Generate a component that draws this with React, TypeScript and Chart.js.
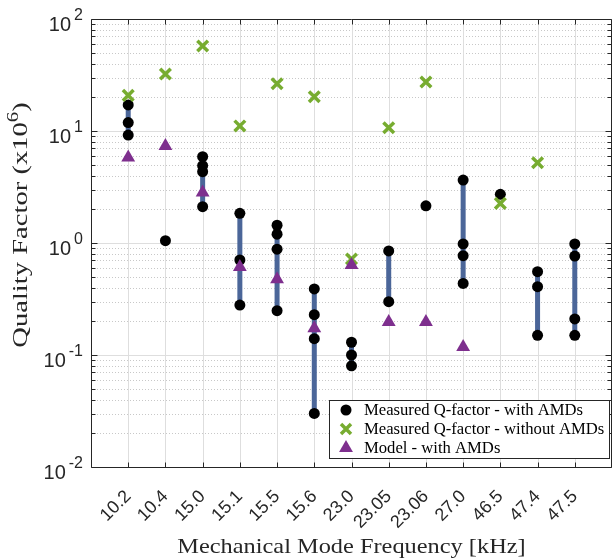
import React, { useEffect, useRef } from 'react';
import { Chart, registerables } from 'chart.js';

Chart.register(...registerables);

// ---------- data ----------
const categories = ['10.2', '10.4', '15.0', '15.1', '15.5', '15.6', '23.0', '23.05', '23.06', '27.0', '46.5', '47.4', '47.5'];

const measuredWithAMDs: number[][] = [
  [17.1, 11.9, 9.2],
  [1.05],
  [5.9, 4.9, 4.33, 2.11],
  [1.84, 0.705, 0.279],
  [1.44, 1.2, 0.88, 0.249],
  [0.389, 0.229, 0.14, 0.0301],
  [0.13, 0.1, 0.08],
  [0.85, 0.299],
  [2.15],
  [3.65, 0.98, 0.77, 0.436],
  [2.72],
  [0.555, 0.407, 0.15],
  [0.98, 0.765, 0.21, 0.15],
];

const measuredWithoutAMDs: (number | null)[] = [20.8, 32.3, 57.4, 11.1, 26.4, 20.2, 0.72, 10.7, 27.4, null, 2.26, 5.2, null];

const modelWithAMDs: (number | null)[] = [5.8, 7.35, 2.82, 0.61, 0.475, 0.173, 0.635, 0.197, 0.197, 0.118, null, null, null];

const yTickExponents = [-2, -1, 0, 1, 2];
const legendLabels = ['Measured Q-factor - with AMDs', 'Measured Q-factor - without AMDs', 'Model - with AMDs'];
const xTitle = 'Mechanical Mode Frequency [kHz]';
const yTitleMain = 'Quality Factor (x10';
const yTitleSup = '6';
const yTitleEnd = ')';

// ---------- styles ----------
const COL_RANGE = '#4b6699';
const COL_DOT = '#000000';
const COL_GREEN = '#77ac30';
const COL_PURPLE = '#7e2f8e';
const COL_AXIS = '#262626';
const SANS = '"Liberation Sans", Arial, Helvetica, sans-serif';
const SERIF = '"Liberation Serif", "Times New Roman", serif';

function stretchedText(ctx: CanvasRenderingContext2D, text: string, x: number, y: number, sx: number) {
  ctx.save();
  ctx.translate(x, y);
  ctx.scale(sx, 1);
  ctx.fillText(text, 0, 0);
  ctx.restore();
}

const decorPlugin = {
  id: 'decor',
  beforeDatasetsDraw(chart: any) {
    const { ctx, chartArea: a, scales } = chart;
    const x = scales.x, y = scales.y;
    const L = Math.round(a.left), R = Math.round(a.right), T = Math.round(a.top), B = Math.round(a.bottom);
    ctx.save();
    ctx.lineWidth = 1;
    // minor dotted horizontal lines
    ctx.strokeStyle = '#c8c8c8';
    ctx.setLineDash([1, 2]);
    for (let e = -2; e < 2; e++) {
      for (let m = 2; m <= 9; m++) {
        const py = Math.round(y.getPixelForValue(m * Math.pow(10, e))) + 0.5;
        ctx.beginPath();
        ctx.moveTo(L, py);
        ctx.lineTo(R, py);
        ctx.stroke();
      }
    }
    ctx.setLineDash([]);
    // major horizontal lines
    ctx.strokeStyle = '#dedede';
    yTickExponents.forEach((e) => {
      const py = Math.round(y.getPixelForValue(Math.pow(10, e))) + 0.5;
      ctx.beginPath();
      ctx.moveTo(L, py);
      ctx.lineTo(R, py);
      ctx.stroke();
    });
    // vertical lines
    categories.forEach((_, i) => {
      const px = Math.round(x.getPixelForValue(i + 1)) + 0.5;
      ctx.beginPath();
      ctx.moveTo(px, T);
      ctx.lineTo(px, B);
      ctx.stroke();
    });
    ctx.restore();
  },
  afterDatasetsDraw(chart: any) {
    const { ctx, chartArea: a, scales } = chart;
    const x = scales.x, y = scales.y;
    const L = Math.round(a.left) + 0.5, R = Math.round(a.right) - 0.5, T = Math.round(a.top) + 0.5, B = Math.round(a.bottom) + 0.5;
    ctx.save();
    ctx.strokeStyle = COL_AXIS;
    ctx.lineWidth = 1;
    ctx.beginPath();
    ctx.rect(L, T, R - L, B - T);
    ctx.stroke();
    // x ticks (inward, top and bottom)
    categories.forEach((_, i) => {
      const px = Math.round(x.getPixelForValue(i + 1)) + 0.5;
      ctx.beginPath();
      ctx.moveTo(px, B);
      ctx.lineTo(px, B - 5);
      ctx.moveTo(px, T);
      ctx.lineTo(px, T + 5);
      ctx.stroke();
    });
    // y ticks (inward, left and right)
    for (let e = -2; e <= 2; e++) {
      for (let m = 1; m <= 9; m++) {
        const v = m * Math.pow(10, e);
        if (v > 100) break;
        const len = m === 1 ? 6 : 4;
        const py = Math.round(y.getPixelForValue(v)) + 0.5;
        ctx.beginPath();
        ctx.moveTo(L, py);
        ctx.lineTo(L + len, py);
        ctx.moveTo(R, py);
        ctx.lineTo(R - len, py);
        ctx.stroke();
      }
    }
    // y tick labels 10^n
    ctx.fillStyle = COL_AXIS;
    ctx.textBaseline = 'alphabetic';
    ctx.textAlign = 'right';
    yTickExponents.forEach((e) => {
      const py = y.getPixelForValue(Math.pow(10, e));
      const sup = String(e);
      ctx.font = `16px ${SANS}`;
      const supW = ctx.measureText(sup).width;
      ctx.fillText(sup, 83, py + 1);
      ctx.font = `20px ${SANS}`;
      ctx.fillText('10', 83 - supW - 3, py + 12);
    });
    // x title
    ctx.textAlign = 'left';
    ctx.font = `21px ${SERIF}`;
    const sx = 1.16;
    const xtW = ctx.measureText(xTitle).width * sx;
    const xc = (a.left + a.right) / 2;
    stretchedText(ctx, xTitle, xc - xtW / 2, 553, sx);
    // y title (rotated)
    const sy = 1.3;
    ctx.save();
    ctx.translate(27, 225);
    ctx.rotate(-Math.PI / 2);
    ctx.font = `22px ${SERIF}`;
    const w1 = ctx.measureText(yTitleMain).width;
    const w3 = ctx.measureText(yTitleEnd).width;
    ctx.font = `16px ${SERIF}`;
    const w2 = ctx.measureText(yTitleSup).width;
    const total = (w1 + w2 + w3) * sy;
    let cx = -total / 2;
    ctx.font = `22px ${SERIF}`;
    stretchedText(ctx, yTitleMain, cx, 0, sy);
    cx += w1 * sy;
    ctx.font = `16px ${SERIF}`;
    stretchedText(ctx, yTitleSup, cx, -9, sy);
    cx += w2 * sy;
    ctx.font = `22px ${SERIF}`;
    stretchedText(ctx, yTitleEnd, cx, 0, sy);
    ctx.restore();
    ctx.restore();
  },
  afterDraw(chart: any) {
    const { ctx } = chart;
    ctx.save();
    // legend box
    const bx = 329.5, by = 400.5, bw = 280, bh = 58;
    ctx.fillStyle = '#ffffff';
    ctx.fillRect(bx, by, bw, bh);
    ctx.strokeStyle = COL_AXIS;
    ctx.lineWidth = 1;
    ctx.strokeRect(bx, by, bw, bh);
    const rows = [410, 429, 448];
    const mx = 346;
    // symbol 1: black dot
    ctx.fillStyle = COL_DOT;
    ctx.beginPath();
    ctx.arc(mx, rows[0], 5.5, 0, Math.PI * 2);
    ctx.fill();
    // symbol 2: green cross
    ctx.strokeStyle = COL_GREEN;
    ctx.lineWidth = 3.5;
    const d = 5;
    ctx.beginPath();
    ctx.moveTo(mx - d, rows[1] - d);
    ctx.lineTo(mx + d, rows[1] + d);
    ctx.moveTo(mx - d, rows[1] + d);
    ctx.lineTo(mx + d, rows[1] - d);
    ctx.stroke();
    // symbol 3: purple triangle
    ctx.fillStyle = COL_PURPLE;
    const r = 8;
    ctx.beginPath();
    ctx.moveTo(mx, rows[2] - r);
    ctx.lineTo(mx + r * 0.866, rows[2] + r / 2);
    ctx.lineTo(mx - r * 0.866, rows[2] + r / 2);
    ctx.closePath();
    ctx.fill();
    // labels
    ctx.fillStyle = '#000000';
    ctx.font = `16px ${SERIF}`;
    ctx.textBaseline = 'middle';
    ctx.textAlign = 'left';
    legendLabels.forEach((t, i) => stretchedText(ctx, t, 364, rows[i] + 1, 1.04));
    ctx.restore();
  },
};

export default function App() {
  const ref = useRef<HTMLCanvasElement>(null);
  useEffect(() => {
    const canvas = ref.current;
    if (!canvas) return;
    const rangeData: any[] = [];
    measuredWithAMDs.forEach((vals, i) => {
      if (vals.length > 1) {
        rangeData.push({ x: i + 1, y: Math.min(...vals) });
        rangeData.push({ x: i + 1, y: Math.max(...vals) });
        rangeData.push({ x: i + 1, y: null });
      }
    });
    const dotData = measuredWithAMDs.flatMap((vals, i) => vals.map((v) => ({ x: i + 1, y: v })));
    const greenData = measuredWithoutAMDs
      .map((v, i) => (v == null ? null : { x: i + 1, y: v }))
      .filter((p) => p !== null);
    const modelData = modelWithAMDs
      .map((v, i) => (v == null ? null : { x: i + 1, y: v }))
      .filter((p) => p !== null);

    const chart = new Chart(canvas, {
      type: 'scatter',
      data: {
        datasets: [
          {
            label: 'range',
            data: rangeData,
            showLine: true,
            spanGaps: false,
            borderColor: COL_RANGE,
            borderWidth: 5,
            borderCapStyle: 'butt',
            pointRadius: 0,
            order: 4,
          } as any,
          {
            label: legendLabels[0],
            data: dotData,
            pointStyle: 'circle',
            pointRadius: 5.5,
            pointBackgroundColor: COL_DOT,
            pointBorderColor: COL_DOT,
            pointBorderWidth: 0,
            order: 3,
          },
          {
            label: legendLabels[1],
            data: greenData as any,
            pointStyle: 'crossRot',
            pointRadius: 7.5,
            pointBorderColor: COL_GREEN,
            pointBackgroundColor: COL_GREEN,
            pointBorderWidth: 3.5,
            order: 2,
          },
          {
            label: legendLabels[2],
            data: modelData as any,
            pointStyle: 'triangle',
            pointRadius: 8,
            pointBackgroundColor: COL_PURPLE,
            pointBorderColor: COL_PURPLE,
            pointBorderWidth: 0,
            order: 1,
          },
        ],
      },
      options: {
        responsive: false,
        animation: false,
        events: [],
        layout: { autoPadding: false, padding: { top: 19, right: 1, left: 0, bottom: 0 } },
        plugins: { legend: { display: false }, tooltip: { enabled: false } },
        scales: {
          x: {
            type: 'linear',
            min: 0,
            max: 14,
            grid: { display: false, drawTicks: false },
            border: { display: false },
            afterBuildTicks: (s: any) => {
              s.ticks = categories.map((_, i) => ({ value: i + 1 }));
            },
            afterFit: (s: any) => {
              s.height = 93;
              s.paddingLeft = 0;
              s.paddingRight = 0;
            },
            ticks: {
              autoSkip: false,
              minRotation: 45,
              maxRotation: 45,
              padding: 19,
              color: COL_AXIS,
              font: { family: SANS, size: 18 },
              callback: (v: any) => categories[Number(v) - 1] ?? '',
            },
          },
          y: {
            type: 'logarithmic',
            min: 0.01,
            max: 100,
            grid: { display: false, drawTicks: false },
            border: { display: false },
            ticks: { display: false },
            afterFit: (s: any) => {
              s.width = 91;
              s.paddingTop = 0;
              s.paddingBottom = 0;
            },
          },
        },
      },
      plugins: [decorPlugin],
    });
    return () => chart.destroy();
  }, []);

  return (
    <div style={{ position: 'fixed', left: 0, top: 0, width: 613, height: 560, background: '#fff' }}>
      <canvas ref={ref} width={613} height={560} style={{ display: 'block' }} />
    </div>
  );
}
